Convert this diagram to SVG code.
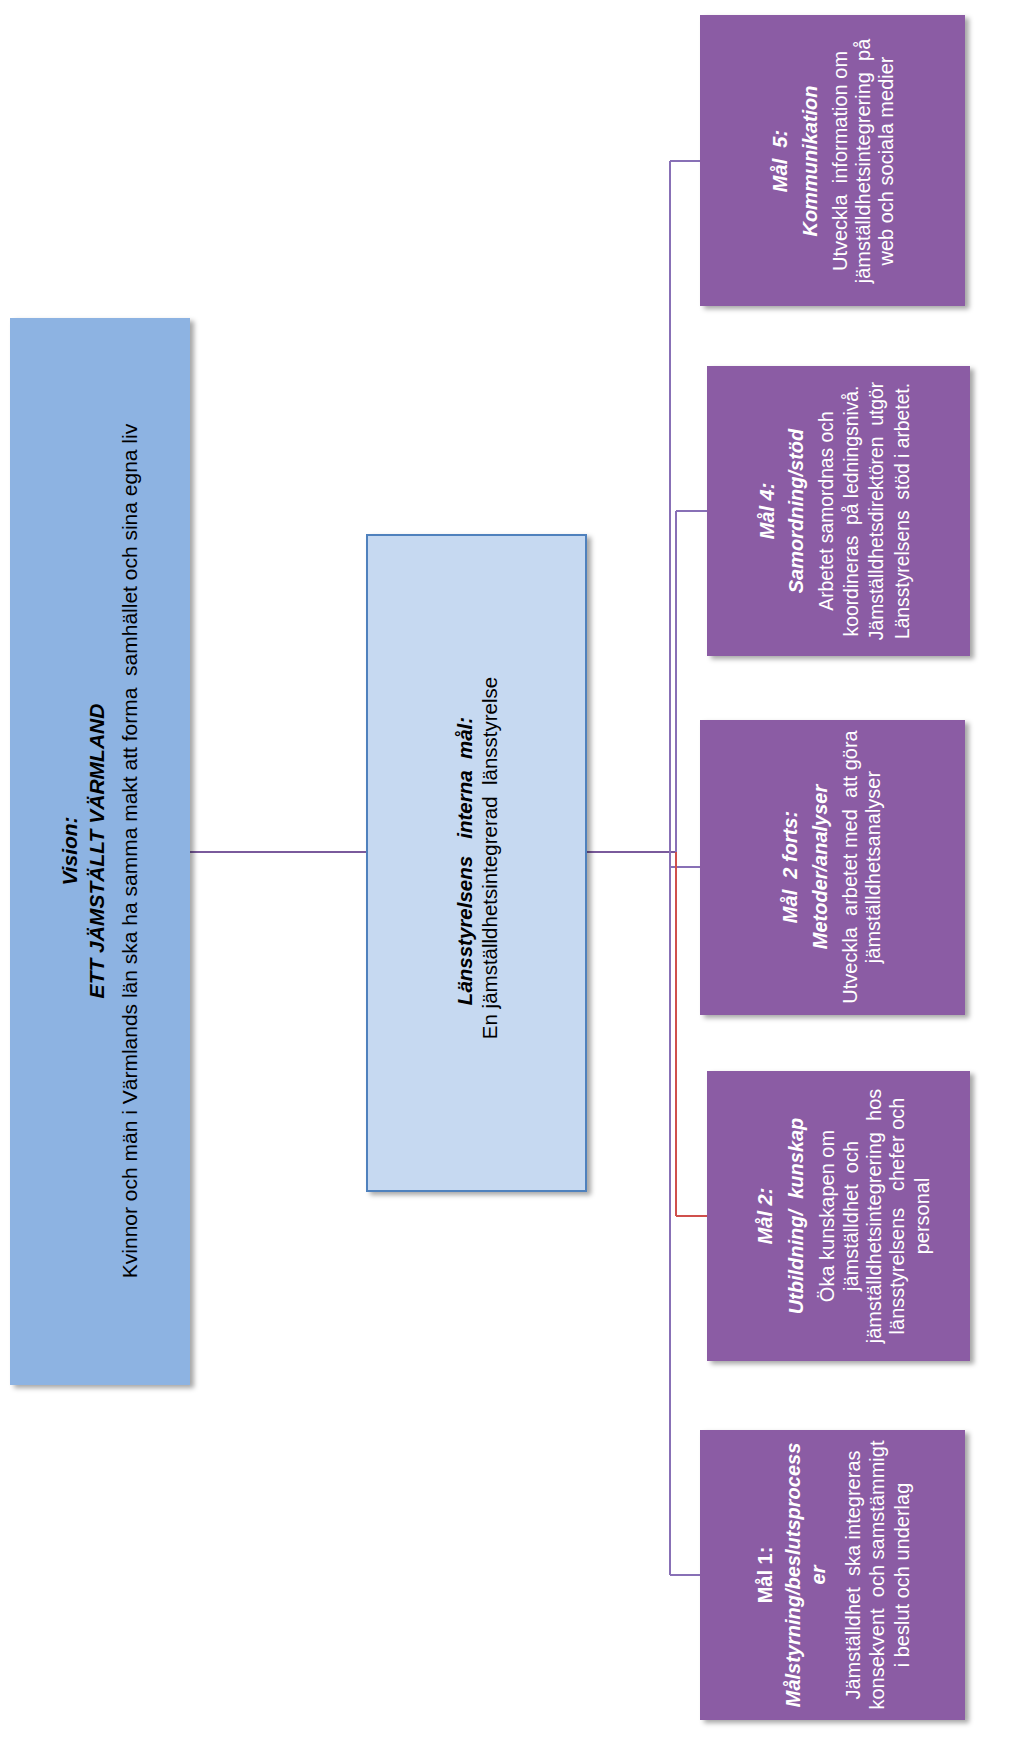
<svg xmlns="http://www.w3.org/2000/svg" width="1024" height="1744" viewBox="0 0 1024 1744">
<defs>
<filter id="sh" x="-10%" y="-10%" width="130%" height="130%">
<feDropShadow dx="4" dy="3" stdDeviation="2.5" flood-color="#000" flood-opacity="0.35"/>
</filter>
<style>
text{font-family:"Liberation Sans",Arial,sans-serif;white-space:pre;text-anchor:middle}
.v{font-size:21px;fill:#000}
.m{font-size:20.5px;fill:#000}
.p{font-size:20px;fill:#fff}
.s{font-size:19.3px}
.b{font-weight:bold}
.i{font-style:italic}
.box{fill:#8B5CA4;filter:url(#sh)}
.cp{fill:none;stroke:#8870B6;stroke-width:2}
.cd{fill:none;stroke:#7A5A9C;stroke-width:2}
.cr{fill:none;stroke:#D0504C;stroke-width:2}
</style>
</defs>
<rect width="1024" height="1744" fill="#fff"/>

<g id="connectors">
<line class="cd" x1="190" y1="852" x2="367" y2="852"/>
<line class="cd" x1="587" y1="852" x2="676" y2="852"/>
<line class="cp" x1="670" y1="161" x2="670" y2="1575"/>
<line class="cp" x1="670" y1="161" x2="700" y2="161"/>
<line class="cp" x1="670" y1="867" x2="700" y2="867"/>
<line class="cp" x1="670" y1="1575" x2="700" y2="1575"/>
<line class="cp" x1="676" y1="511" x2="676" y2="852"/>
<line class="cp" x1="676" y1="511" x2="707" y2="511"/>
<line class="cr" x1="676" y1="852" x2="676" y2="1216"/>
<line class="cr" x1="676" y1="1216" x2="707" y2="1216"/>
</g>

<g id="vision">
<rect x="10" y="318" width="180" height="1067" fill="#8DB3E2" filter="url(#sh)"/>
<text class="v b i" transform="translate(77,851) rotate(-90)">Vision:</text>
<text class="v b i" transform="translate(104,851) rotate(-90)">ETT JÄMSTÄLLT VÄRMLAND</text>
<text class="v" transform="translate(137,851) rotate(-90)">Kvinnor och män i Värmlands län ska ha samma makt att forma  samhället och sina egna liv</text>
</g>

<g id="lansstyrelsen">
<rect x="367" y="535" width="219" height="656" fill="#C6D9F1" stroke="#4F81BD" stroke-width="2" filter="url(#sh)"/>
<text class="m b i" transform="translate(472,861) rotate(-90)">Länsstyrelsens   interna  mål:</text>
<text class="m" transform="translate(497,858) rotate(-90)">En jämställdhetsintegrerad  länsstyrelse</text>
</g>

<g id="mal5">
<rect class="box" x="700" y="15" width="265" height="291"/>
<text class="p b i" transform="translate(787,161) rotate(-90)">Mål  5:</text>
<text class="p b i" transform="translate(817,161) rotate(-90)">Kommunikation</text>
<text class="p" transform="translate(847,161) rotate(-90)">Utveckla  information om</text>
<text class="p" transform="translate(870,161) rotate(-90)">jämställdhetsintegrering  på</text>
<text class="p" transform="translate(893,161) rotate(-90)">web och sociala medier</text>
</g>

<g id="mal4">
<rect class="box" x="707" y="366" width="263" height="290"/>
<text class="p b i" transform="translate(774,511) rotate(-90)">Mål 4:</text>
<text class="p b i" transform="translate(803,511) rotate(-90)">Samordning/stöd</text>
<text class="p s" transform="translate(833,511) rotate(-90)">Arbetet samordnas och</text>
<text class="p s" transform="translate(858,511) rotate(-90)">koordineras  på ledningsnivå.</text>
<text class="p s" transform="translate(883,511) rotate(-90)">Jämställdhetsdirektören  utgör</text>
<text class="p s" transform="translate(909,511) rotate(-90)">Länsstyrelsens  stöd i arbetet.</text>
</g>

<g id="mal2forts">
<rect class="box" x="700" y="720" width="265" height="295"/>
<text class="p b i" transform="translate(797,867) rotate(-90)">Mål  2 forts:</text>
<text class="p b i" transform="translate(827,867) rotate(-90)">Metoder/analyser</text>
<text class="p" transform="translate(857,867) rotate(-90)">Utveckla  arbetet med  att göra</text>
<text class="p" transform="translate(880,867) rotate(-90)">jämställdhetsanalyser</text>
</g>

<g id="mal2">
<rect class="box" x="707" y="1071" width="263" height="290"/>
<text class="p b i" transform="translate(772,1216) rotate(-90)">Mål 2:</text>
<text class="p b i" transform="translate(803,1216) rotate(-90)">Utbildning/  kunskap</text>
<text class="p" transform="translate(834,1216) rotate(-90)">Öka kunskapen om</text>
<text class="p" transform="translate(858,1216) rotate(-90)">jämställdhet  och</text>
<text class="p" transform="translate(881,1216) rotate(-90)">jämställdhetsintegrering  hos</text>
<text class="p" transform="translate(904,1216) rotate(-90)">länsstyrelsens   chefer och</text>
<text class="p" transform="translate(929,1216) rotate(-90)">personal</text>
</g>

<g id="mal1">
<rect class="box" x="700" y="1430" width="265" height="290"/>
<text class="p b" transform="translate(772,1575) rotate(-90)">Mål 1:</text>
<text class="p b i" transform="translate(800,1575) rotate(-90)">Målstyrning/beslutsprocess</text>
<text class="p b i" transform="translate(825,1575) rotate(-90)">er</text>
<text class="p" transform="translate(860,1575) rotate(-90)">Jämställdhet  ska integreras</text>
<text class="p" transform="translate(884,1575) rotate(-90)">konsekvent  och samstämmigt</text>
<text class="p" transform="translate(909,1575) rotate(-90)">i beslut och underlag</text>
</g>
</svg>
